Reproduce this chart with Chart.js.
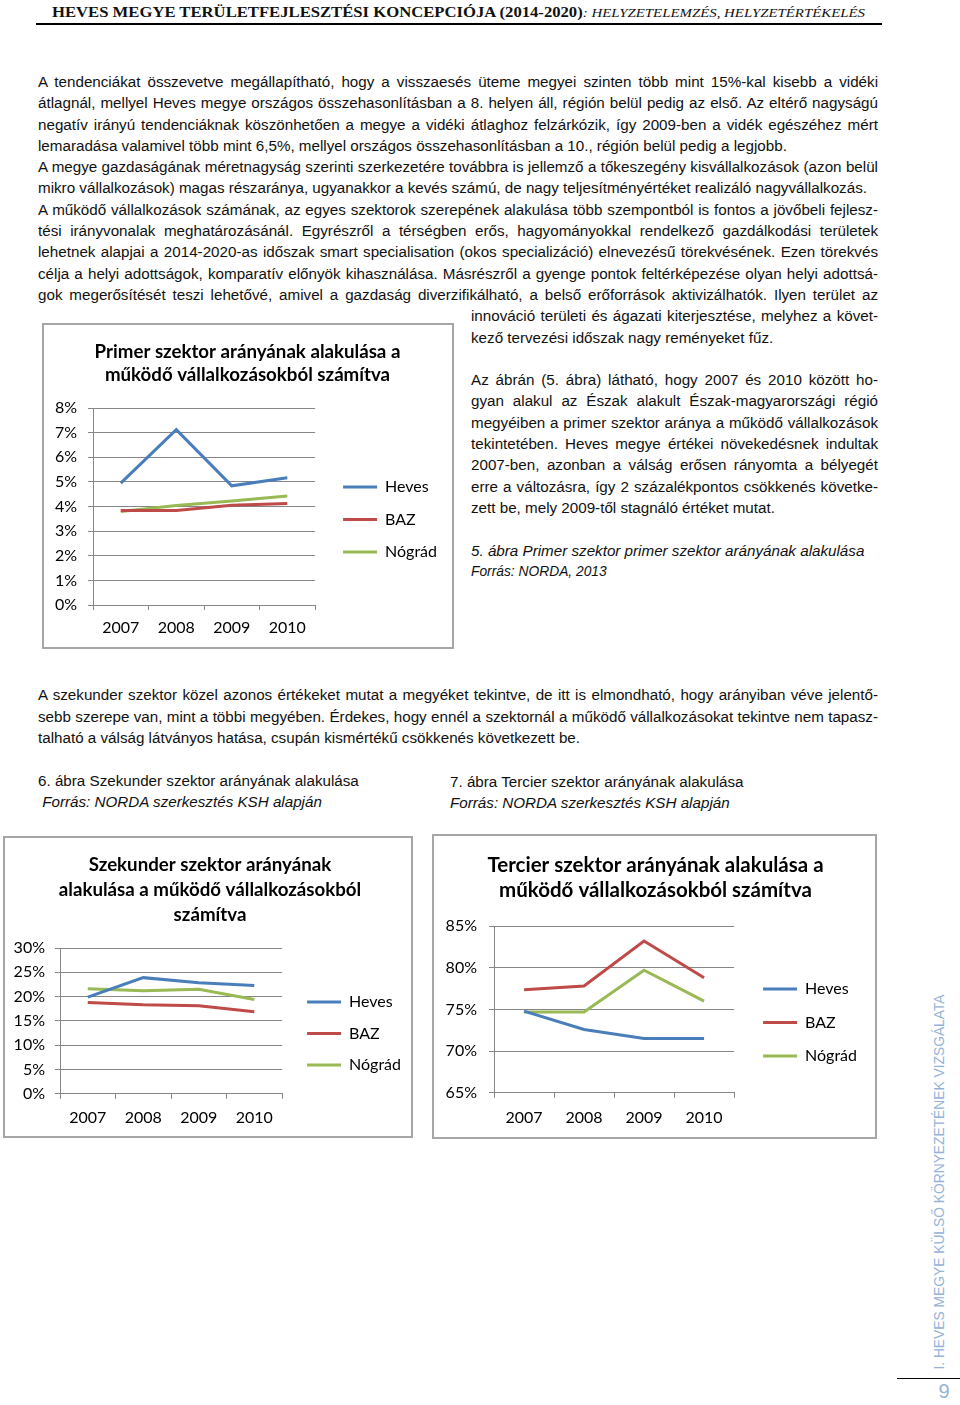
<!DOCTYPE html>
<html lang="hu">
<head>
<meta charset="utf-8">
<title>Heves megye - szektorok aránya</title>
<script src="https://cdn.jsdelivr.net/npm/chart.js@4.4.1/dist/chart.umd.min.js"></script>
<style>
  html, body { margin: 0; padding: 0; background: #fff; }
  body { width: 960px; height: 1405px; position: relative; overflow: hidden;
         font-family: "Liberation Sans", Arial, sans-serif; color: #111; }
  .hdr { position: absolute; left: 52px; top: 3px; white-space: nowrap; transform: scaleX(1.11); transform-origin: left top;
         font-family: "Liberation Serif", "Times New Roman", serif; }
  .hdr b { font-size: 15px; }
  .hdr i { font-size: 13.4px; }
  .rule { position: absolute; background: #000; }
  .txt { position: absolute; font-size: 15.2px; line-height: 21.3px; }
  .txt div { text-align: justify; text-align-last: justify; white-space: nowrap; }
  .txt div.l { text-align-last: left; }
  .txt .it { font-style: italic; }
  .txt .sm { font-size: 13.8px; }
  .box { position: absolute; border: 2px solid #a6a6a6; background: #fff; }
  .box canvas { display: block; }
  .side { position: absolute; left: 750px; top: 1174px; width: 380px; height: 16px;
          transform: rotate(-90deg); text-align: center; white-space: nowrap;
          font-family: "Liberation Sans", Arial, sans-serif; font-size: 13.8px; line-height: 16px; color: #95b3d7; }
  .pnum { position: absolute; left: 934px; top: 1380px; width: 20px; text-align: center;
          font-family: "Liberation Sans", Arial, sans-serif; font-size: 20px; color: #95b3d7; }
</style>
</head>
<body>

<div class="hdr"><b>HEVES MEGYE TERÜLETFEJLESZTÉSI KONCEPCIÓJA (2014-2020)</b><i>: HELYZETELEMZÉS, HELYZETÉRTÉKELÉS</i></div>
<div class="rule" style="left:36px; top:23px; width:846px; height:1.5px;"></div>

<div class="txt" style="left:38px; top:71px; width:840px;">
  <div>A tendenciákat összevetve megállapítható, hogy a visszaesés üteme megyei szinten több mint 15%-kal kisebb a vidéki</div>
  <div>átlagnál, mellyel Heves megye országos összehasonlításban a 8. helyen áll, régión belül pedig az első. Az eltérő nagyságú</div>
  <div>negatív irányú tendenciáknak köszönhetően a megye a vidéki átlaghoz felzárkózik, így 2009-ben a vidék egészéhez mért</div>
  <div class="l">lemaradása valamivel több mint 6,5%, mellyel országos összehasonlításban a 10., régión belül pedig a legjobb.</div>
  <div>A megye gazdaságának méretnagyság szerinti szerkezetére továbbra is jellemző a tőkeszegény kisvállalkozások (azon belül</div>
  <div class="l">mikro vállalkozások) magas részaránya, ugyanakkor a kevés számú, de nagy teljesítményértéket realizáló nagyvállalkozás.</div>
  <div>A működő vállalkozások számának, az egyes szektorok szerepének alakulása több szempontból is fontos a jövőbeli fejlesz-</div>
  <div>tési irányvonalak meghatározásánál. Egyrészről a térségben erős, hagyományokkal rendelkező gazdálkodási területek</div>
  <div>lehetnek alapjai a 2014-2020-as időszak smart specialisation (okos specializáció) elnevezésű törekvésének. Ezen törekvés</div>
  <div>célja a helyi adottságok, komparatív előnyök kihasználása. Másrészről a gyenge pontok feltérképezése olyan helyi adottsá-</div>
  <div>gok megerősítését teszi lehetővé, amivel a gazdaság diverzifikálható, a belső erőforrások aktivizálhatók. Ilyen terület az</div>
</div>

<div class="txt" style="left:471px; top:305.3px; width:407px;">
  <div>innováció területi és ágazati kiterjesztése, melyhez a követ-</div>
  <div class="l">kező tervezési időszak nagy reményeket fűz.</div>
  <div class="l">&nbsp;</div>
  <div>Az ábrán (5. ábra) látható, hogy 2007 és 2010 között ho-</div>
  <div>gyan alakul az Észak alakult Észak-magyarországi régió</div>
  <div>megyéiben a primer szektor aránya a működő vállalkozások</div>
  <div>tekintetében. Heves megye értékei növekedésnek indultak</div>
  <div>2007-ben, azonban a válság erősen rányomta a bélyegét</div>
  <div>erre a változásra, így 2 százalékpontos csökkenés követke-</div>
  <div class="l">zett be, mely 2009-től stagnáló értéket mutat.</div>
  <div class="l">&nbsp;</div>
  <div class="l it">5. ábra Primer szektor primer szektor arányának alakulása</div>
  <div class="l it sm">Forrás: NORDA, 2013</div>
</div>

<div class="box" style="left:42px; top:323px; width:408px; height:322px;">
  <canvas id="chartPrimer" width="408" height="322"></canvas>
</div>

<div class="txt" style="left:38px; top:684.4px; width:840px;">
  <div>A szekunder szektor közel azonos értékeket mutat a megyéket tekintve, de itt is elmondható, hogy arányiban véve jelentő-</div>
  <div>sebb szerepe van, mint a többi megyében. Érdekes, hogy ennél a szektornál a működő vállalkozásokat tekintve nem tapasz-</div>
  <div class="l">talható a válság látványos hatása, csupán kismértékű csökkenés következett be.</div>
  <div class="l">&nbsp;</div>
  <div class="l">6. ábra Szekunder szektor arányának alakulása</div>
  <div class="l it">&nbsp;Forrás: NORDA szerkesztés KSH alapján</div>
</div>

<div class="txt" style="left:450px; top:770.9px; width:420px;">
  <div class="l">7. ábra Tercier szektor arányának alakulása</div>
  <div class="l it">Forrás: NORDA szerkesztés KSH alapján</div>
</div>

<div class="box" style="left:3px; top:836px; width:406px; height:298px;">
  <canvas id="chartSzekunder" width="406" height="298"></canvas>
</div>

<div class="box" style="left:432px; top:834px; width:441px; height:301px;">
  <canvas id="chartTercier" width="441" height="301"></canvas>
</div>

<div class="side">I. HEVES MEGYE KÜLSŐ KÖRNYEZETÉNEK VIZSGÁLATA</div>
<div class="rule" style="left:897px; top:1378px; width:63px; height:1px;"></div>
<div class="pnum">9</div>

<script>
// évek és megyék
const evek = ['2007', '2008', '2009', '2010'];
const megyek = ['Heves', 'BAZ', 'Nógrád'];
const szinek = ['#4a7ebb', '#be4b48', '#98b954'];

// Primer szektor (%)
const primerHeves = [4.95, 7.12, 4.84, 5.17];
const primerBaz = [3.84, 3.84, 4.05, 4.12];
const primerNograd = [3.8, 4.04, 4.22, 4.43];

// Szekunder szektor (%)
const szekunderHeves = [19.9, 23.9, 22.85, 22.3];
const szekunderBaz = [18.8, 18.3, 18.1, 16.9];
const szekunderNograd = [21.6, 21.2, 21.5, 19.4];

// Tercier szektor (%)
const tercierHeves = [74.8, 72.6, 71.5, 71.5];
const tercierBaz = [77.35, 77.8, 83.2, 78.8];
const tercierNograd = [74.7, 74.7, 79.7, 76.0];

// tengely beosztások: [min, max, lépés]
const primerTengely = [0, 8, 1];
const szekunderTengely = [0, 30, 5];
const tercierTengely = [65, 85, 5];

Chart.defaults.font.family = 'Lato, "Open Sans", sans-serif';
Chart.defaults.color = '#000';

const racsSzin = '#868686';

function rajzolDiagram(id, cim, sorok, tengely, m) {
    const ctx = document.getElementById(id);
    if (!ctx) return;

    return new Chart(ctx.getContext('2d'), {
        type: 'line',
        data: {
            labels: evek,
            datasets: sorok.map((adat, i) => ({
                label: megyek[i],
                data: adat,
                borderColor: szinek[i],
                backgroundColor: szinek[i],
                borderWidth: 3,
                pointRadius: 0,
                pointHoverRadius: 0,
                pointStyle: 'line',
                tension: 0,
                fill: false
            }))
        },
        options: {
            responsive: false,
            animation: false,
            layout: { padding: { left: m.pl, right: m.pr, top: 0, bottom: m.pb } },
            plugins: {
                title: {
                    display: true,
                    text: cim,
                    font: { size: m.cimMeret, weight: 'bold', lineHeight: m.titleLh / m.cimMeret },
                    color: '#000',
                    padding: { top: m.titleTop, bottom: m.titleBottom }
                },
                legend: {
                    position: 'right',
                    align: 'start',
                    fullSize: false,
                    maxWidth: 140,
                    // üres cím csak a jelmagyarázat függőleges helyéhez
                    title: { display: true, text: '', font: { size: 1, lineHeight: 1 }, padding: { top: m.legTop - 1, bottom: 0 } },
                    labels: {
                        usePointStyle: true,
                        pointStyleWidth: 34,
                        padding: m.legPad,
                        font: { size: 16 },
                        color: '#000'
                    }
                },
                tooltip: { enabled: false }
            },
            scales: {
                x: {
                    offset: true,
                    grid: { display: true, drawOnChartArea: false, drawTicks: true, tickLength: 5, offset: true, color: racsSzin },
                    border: { display: true, color: racsSzin },
                    ticks: { font: { size: 16 }, color: '#000', padding: m.xPad, maxRotation: 0 }
                },
                y: {
                    min: tengely[0],
                    max: tengely[1],
                    ticks: { stepSize: tengely[2], font: { size: 16 }, color: '#000', padding: m.yPad,
                             callback: v => v + '%' },
                    grid: { color: racsSzin, tickLength: 5 },
                    border: { display: true, color: racsSzin },
                    afterFit: s => { s.width = m.yW; }
                },
                // üres sáv a rajzterület és a jelmagyarázat között
                hely: {
                    type: 'linear',
                    position: 'right',
                    grid: { display: false },
                    ticks: { display: false },
                    border: { display: false },
                    afterFit: s => { s.width = m.gap; }
                }
            }
        }
    });
}

rajzolDiagram('chartPrimer',
    ['Primer szektor arányának alakulása a', 'működő vállalkozásokból számítva'],
    [primerHeves, primerBaz, primerNograd], primerTengely,
    { cimMeret: 18.7, titleLh: 23, titleTop: 15.5, titleBottom: 21.5, pl: 4, pb: 1, pr: 5, xPad: 8.4, yPad: 11, yW: 45,
      legPad: 16.5, legTop: 54.5, gap: 11.5 });

rajzolDiagram('chartSzekunder',
    ['Szekunder szektor arányának', 'alakulása a működő vállalkozásokból', 'számítva'],
    [szekunderHeves, szekunderBaz, szekunderNograd], szekunderTengely,
    { cimMeret: 18.7, titleLh: 25, titleTop: 14.5, titleBottom: 20.5, pl: 4, pb: 0, pr: 0, xPad: 9, yPad: 10, yW: 51,
      legPad: 15.5, legTop: 30.5, gap: 9.5 });

rajzolDiagram('chartTercier',
    ['Tercier szektor arányának alakulása a', 'működő vállalkozásokból számítva'],
    [tercierHeves, tercierBaz, tercierNograd], tercierTengely,
    { cimMeret: 20.5, titleLh: 25, titleTop: 16.5, titleBottom: 23.5, pl: 10, pb: 0, pr: 8, xPad: 10, yPad: 12, yW: 50,
      legPad: 17.5, legTop: 37.5, gap: 11.5 });
</script>
</body>
</html>
